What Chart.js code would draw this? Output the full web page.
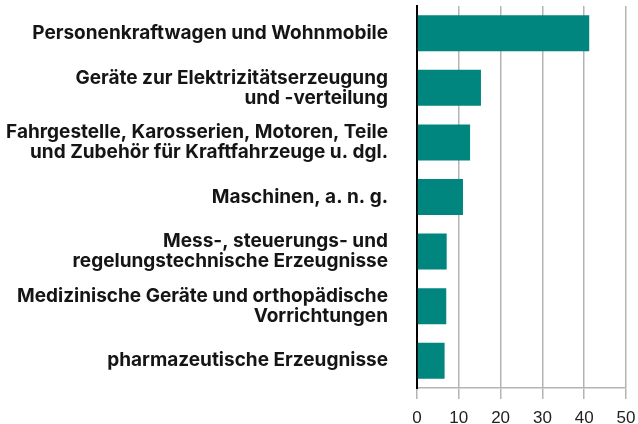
<!DOCTYPE html>
<html>
<head>
<meta charset="utf-8">
<script src="https://cdn.jsdelivr.net/npm/chart.js@4"></script>
<style>
  html, body { margin: 0; padding: 0; background: #fff; }
  #wrap { width: 638px; height: 424px; }
</style>
</head>
<body>
<div id="wrap"><canvas id="chart"></canvas></div>
<script>
// Categories (multi-line labels as arrays)
const categories = [
    'Personenkraftwagen und Wohnmobile',
    ['Geräte zur Elektrizitätserzeugung', 'und -verteilung'],
    ['Fahrgestelle, Karosserien, Motoren, Teile', 'und Zubehör für Kraftfahrzeuge u. dgl.'],
    'Maschinen, a. n. g.',
    ['Mess-, steuerungs- und', 'regelungstechnische Erzeugnisse'],
    ['Medizinische Geräte und orthopädische', 'Vorrichtungen'],
    'pharmazeutische Erzeugnisse'
];
const values = [41.2, 15.3, 12.7, 11.0, 7.1, 7.0, 6.6];
const xTicks = [0, 10, 20, 30, 40, 50];

const barColor = '#00857f';

const ctx = document.getElementById('chart').getContext('2d');
const chart = new Chart(ctx, {
    type: 'bar',
    data: {
        labels: categories,
        datasets: [{
            data: values,
            backgroundColor: barColor,
            borderWidth: 0,
            barPercentage: 0.66,
            categoryPercentage: 1
        }]
    },
    options: {
        indexAxis: 'y',
        responsive: true,
        maintainAspectRatio: false,
        animation: false,
        layout: { padding: { top: 6, right: 12, left: 0, bottom: 0 } },
        plugins: {
            legend: { display: false },
            tooltip: { enabled: false }
        },
        scales: {
            x: {
                min: 0,
                max: 50,
                afterBuildTicks: (scale) => {
                    scale.ticks = xTicks.map(v => ({ value: v }));
                },
                afterFit: (scale) => {
                    scale.height = 36;
                    scale.paddingLeft = 0;
                    scale.paddingRight = 0;
                },
                grid: {
                    color: '#b4b4b4',
                    lineWidth: 1.5,
                    tickLength: 11,
                    drawTicks: true
                },
                border: { color: '#b4b4b4', width: 1.5 },
                ticks: {
                    color: '#222',
                    padding: 9,
                    font: { family: 'Liberation Sans', size: 17 }
                }
            },
            y: {
                afterFit: (scale) => {
                    scale.width = 417;
                    scale.paddingTop = 0;
                    scale.paddingBottom = 0;
                },
                grid: { display: false, drawTicks: false },
                border: { color: '#000', width: 2 },
                ticks: {
                    color: '#151515',
                    padding: 29,
                    font: { family: 'Inter', size: 19, weight: 'bold', lineHeight: 1.06 }
                }
            }
        }
    }
});
</script>
</body>
</html>
